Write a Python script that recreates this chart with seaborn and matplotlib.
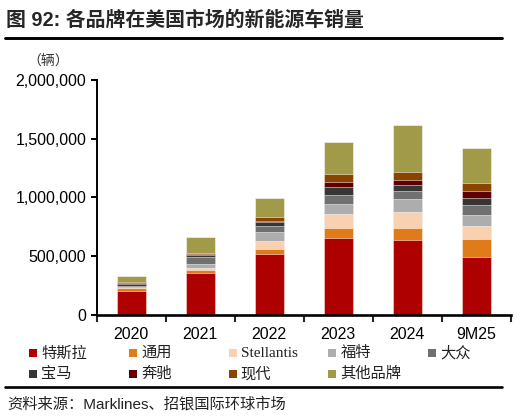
import matplotlib
matplotlib.use("Agg")
import matplotlib.pyplot as plt
from matplotlib.lines import Line2D
from matplotlib.patches import Rectangle
from matplotlib.ticker import FuncFormatter, MultipleLocator
import seaborn as sns
import numpy as np

sns.set_style("ticks")
plt.rcParams['font.family'] = ['Liberation Sans', 'Noto Sans CJK SC', 'DejaVu Sans']

# ---- data (units: vehicles) ----
years = ["2020", "2021", "2022", "2023", "2024", "9M25"]
brands = ["特斯拉", "通用", "Stellantis", "福特", "大众", "宝马", "奔驰", "现代", "其他品牌"]

tesla      = [204000, 358000, 517000, 654000, 639000, 494000]
gm         = [21000, 20000, 43000, 82000, 103000, 154000]
stellantis = [3000, 22000, 68000, 122000, 133000, 111000]
ford       = [8000, 35000, 77000, 85000, 108000, 91000]
vw         = [12000, 54000, 48000, 74000, 69000, 85000]
bmw        = [12000, 20000, 37000, 71000, 56000, 62000]
benz       = [8000, 8000, 8000, 43000, 40000, 60000]
hyundai    = [8000, 11000, 34000, 68000, 68000, 65000]
others     = [54000, 134000, 160000, 273000, 398000, 299000]

colors = ["#AF0000", "#E07B1A", "#F9D0B0", "#ADADAD", "#707070",
          "#363636", "#5E0000", "#8A4300", "#A19A48"]

series = np.array([tesla, gm, stellantis, ford, vw, bmw, benz, hyundai, others])
cum = series.cumsum(axis=0)

fig = plt.figure(figsize=(5.17, 4.2), dpi=100)
ax = fig.add_axes([0.187, 0.2507, 0.801, 0.5588])

# stacked bars: draw cumulative totals from the top layer down
for i in range(len(brands) - 1, -1, -1):
    sns.barplot(x=years, y=cum[i], color=colors[i], saturation=1, width=0.42,
                edgecolor=(1, 1, 1, 0.6), linewidth=0.6, ax=ax)

ax.set_xlim(-0.5, 5.5)
ax.set_ylim(0, 2000000)
ax.set_xlabel("")
ax.set_ylabel("")
ax.yaxis.set_major_locator(MultipleLocator(500000))
ax.yaxis.set_major_formatter(FuncFormatter(lambda v, p: f"{int(v):,}"))
ax.set_xticks(np.arange(-0.5, 6, 1), minor=True)
ax.tick_params(axis='x', which='major', length=0, pad=9, labelsize=11.5, colors='black')
ax.tick_params(axis='x', which='minor', length=5, width=1.5, direction='out')
ax.tick_params(axis='y', length=4.5, width=1.4, pad=3, labelsize=11.5, colors='black')

sns.despine(ax=ax)
ax.spines['bottom'].set_linewidth(1.9)
ax.spines['left'].set_linewidth(1.4)
ax.spines['bottom'].set_color('black')
ax.spines['left'].set_color('black')

# ---- title, unit, rules ----
fig.text(0.012, 0.952, "图 92: 各品牌在美国市场的新能源车销量",
         fontsize=14.3, fontweight='bold', ha='left', va='center')
fig.add_artist(Line2D([0.0097, 0.971], [0.9095, 0.9095], transform=fig.transFigure,
                      color='black', linewidth=2.1))
fig.text(0.093, 0.852, "（辆）", fontsize=10, ha='center', va='center', color='#333333')

# ---- legend (two rows, five columns) ----
row_y = [353.3, 374.0]
for i, name in enumerate(brands):
    col, row = i % 5, i // 5
    x = (29.3 + col * 99.7) / 517
    yc = row_y[row]
    fig.add_artist(Rectangle((x, 1 - (yc + 4) / 420), 8 / 517, 8 / 420,
                             transform=fig.transFigure, facecolor=colors[i],
                             edgecolor='none'))
    fig.text(x + 12 / 517, 1 - yc / 420, name, fontsize=11, va='center', ha='left',
             color='#222222', family=['Liberation Serif', 'Noto Sans CJK SC'])

fig.add_artist(Line2D([0.0097, 0.971], [1 - 387.3 / 420, 1 - 387.3 / 420],
                      transform=fig.transFigure, color='black', linewidth=1.9))
fig.text(0.0135, 1 - 404 / 420, "资料来源：Marklines、招银国际环球市场",
         fontsize=11, ha='left', va='center', color='#222222')

fig.savefig("out.png", dpi=100, facecolor='white')
